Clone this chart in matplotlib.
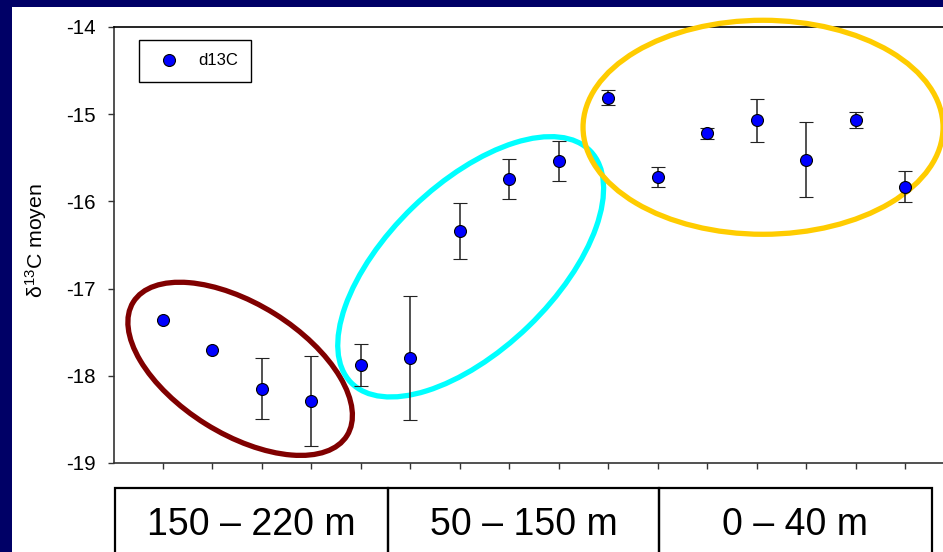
import numpy as np
import matplotlib
matplotlib.use('Agg')
import matplotlib.pyplot as plt
from matplotlib.patches import Ellipse, Rectangle
from matplotlib.transforms import ScaledTranslation
from matplotlib.lines import Line2D

plt.rcParams['font.family'] = ['Liberation Sans', 'DejaVu Sans']
plt.rcParams['mathtext.fontset'] = 'custom'
plt.rcParams['mathtext.rm'] = 'Liberation Sans'
plt.rcParams['mathtext.default'] = 'regular'

# ---- data ----
stations = np.arange(1, 17)
d13c = [-17.36, -17.70, -18.15, -18.29, -17.88, -17.80, -16.34, -15.74,
        -15.54, -14.81, -15.72, -15.22, -15.07, -15.52, -15.07, -15.83]
d13c_sd = [np.nan, np.nan, 0.35, 0.52, 0.24, 0.71, 0.32, 0.23,
           0.23, 0.09, 0.12, 0.06, 0.245, 0.43, 0.09, 0.175]
depth_labels = ["150 \u2013 220 m", "50 \u2013 150 m", "0 \u2013 40 m"]
y_ticks = [-19, -18, -17, -16, -15, -14]

W, H = 943, 552
fig = plt.figure(figsize=(W / 100, H / 100), dpi=100, facecolor='#000066')
# white slide area
fig.patches.append(Rectangle((12 / W, 0), 1, (H - 7) / H, transform=fig.transFigure,
                             facecolor='white', edgecolor='none', zorder=-5))

x0 = 113.5
xr = 943
ax = fig.add_axes([x0 / W, 1 - 463 / H, (xr - x0) / W, (463 - 27) / H])
ax.set_facecolor('none')
ax.set_zorder(2)
ax.set_xlim(0, (xr - x0) / 49.47)
ax.set_ylim(-19, -14)

ax.errorbar(stations, d13c, yerr=d13c_sd, fmt='o', color='#0000FF', markersize=8.6,
            markeredgecolor='black', markeredgewidth=0.8, ecolor='#222222',
            elinewidth=1.1, capsize=4.8, capthick=1.1, zorder=5)

ax.set_yticks(y_ticks)
ax.set_yticklabels([str(v) for v in y_ticks], fontsize=14.8)
ax.set_xticks(stations)
ax.set_xticklabels([])
ax.tick_params(axis='both', direction='out', length=4.3, width=1, color='#333333')
ax.tick_params(axis='y', pad=8.5)

for s in ['left', 'bottom']:
    ax.spines[s].set_color('#333333')
    ax.spines[s].set_linewidth(1.2)
ax.spines['top'].set_color('black')
ax.spines['top'].set_linewidth(1.2)
ax.spines['right'].set_visible(False)

ax.set_ylabel(r"δ$^{13}$C moyen", fontsize=15.3)
ax.yaxis.set_label_coords(-0.078, 0.51)

handle = Line2D([], [], marker='o', linestyle='none', color='#0000FF', markersize=8.6,
                markeredgecolor='black', markeredgewidth=0.8)
leg = ax.legend(handles=[handle], labels=['d13C'], loc='upper left',
                bbox_to_anchor=(0.0307, 0.970), borderaxespad=0,
                fancybox=False, edgecolor='black', framealpha=1, fontsize=12,
                borderpad=0.8, handlelength=2.0, handletextpad=0.75, numpoints=1)
leg.get_frame().set_linewidth(1.0)

# group ellipses (centre in data units, size in pixels)
ellipses = [
    ((2.56, -17.92), 252, 130, -32, '#800000'),
    ((7.22, -16.75), 333, 166, 44, '#00FFFF'),
    ((13.13, -15.15), 360, 214, 0, '#FFCC00'),
]
for (cx, cy), w, h, ang, col in ellipses:
    tr = fig.dpi_scale_trans + ScaledTranslation(cx, cy, ax.transData)
    e = Ellipse((0, 0), w / 100, h / 100, angle=ang, transform=tr, fill=False,
                edgecolor=col, linewidth=3.8, clip_on=False, zorder=3)
    ax.add_patch(e)

# depth boxes below the axis
bx = [115, 388, 659, 932]
top = 488
for i in range(3):
    r = Rectangle((bx[i] / W, -0.05), (bx[i + 1] - bx[i]) / W, (H - top) / H + 0.05,
                  transform=fig.transFigure, fill=False, edgecolor='black', linewidth=1.6)
    fig.patches.append(r)
    fig.text((bx[i] + bx[i + 1]) / 2 / W, 17 / H, depth_labels[i], fontsize=27,
             ha='center', va='baseline', color='black')

fig.savefig('out.png', dpi=100, facecolor=fig.get_facecolor())
